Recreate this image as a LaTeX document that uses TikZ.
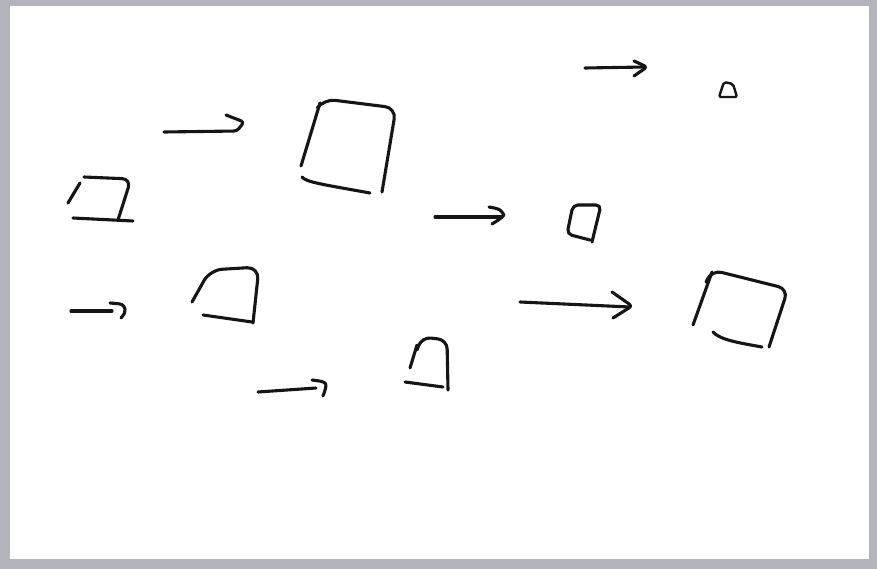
\documentclass[tikz,border=0pt]{standalone}
\usetikzlibrary{calc}
\definecolor{FrameGray}{HTML}{B3B3BB}
\definecolor{InkBlack}{HTML}{151515}

\begin{document}
\begin{tikzpicture}[
      x=1pt,y=-1pt,
      pen/.style={draw=InkBlack,line width=3.1pt,line cap=round,line join=round},
      finepen/.style={pen,line width=2.4pt},
      hook/.style={pen,rounded corners=3pt}
    ]
      % paper and frame
      \fill[FrameGray] (0,0) rectangle (877,569);
      \fill[white] (10,6) rectangle (869,559);
      \useasboundingbox (0,0) rectangle (877,569);

      % arrows
      \draw[pen] (585,68) -- (645,67);
      \draw[hook] (634,61) -- (647,67) -- (634,76);
      \draw[hook] (226,115) -- (244,122) -- (237,131) -- (164,132);
      \draw[pen] (435,217) -- (502,217);
      \draw[pen] (489,207) .. controls (500,209) .. (504,215) .. controls (500,219) .. (492,224);
      \draw[pen] (71,311) -- (112,311);
      \draw[pen] (110,303) .. controls (123,304) .. (125,309) .. controls (125,313) .. (121,318);
      \draw[pen] (520,302) -- (630,307);
      \draw[hook] (612,292) -- (632,306) -- (613,318);
      \draw[pen] (258,392) -- (316,388);
      \draw[pen] (312,380) .. controls (328,382) .. (323,396);

      % shapes
      \draw[finepen,rounded corners=2pt] (719,97) -- (737,97) -- (733,84) -- (724,82) -- cycle;
      \draw[pen] (301,166) -- (320,103);
      \draw[pen,rounded corners=11pt] (318,107) -- (324,99) -- (396,108) -- (382,192);
      \draw[pen] (302,177) .. controls (306,182) and (320,184) .. (370,193);
      \draw[pen] (68,203) -- (80,183);
      \draw[pen,rounded corners=9pt] (84,177) -- (131,179) -- (118,220);
      \draw[pen] (73,218) -- (133,221);
      \draw[pen,rounded corners=5pt] (590,240) -- (567,234) -- (573,205) -- (601,205) -- (592,242);
      \draw[pen,rounded corners=12pt] (192,302) -- (210,270) -- (259,267) -- (253,323);
      \draw[pen] (203,315) -- (252,322);
      \draw[pen] (693,325) -- (712,272);
      \draw[pen,rounded corners=10pt] (706,282) -- (712,270) -- (788,289) -- (769,347);
      \draw[pen] (713,332) .. controls (720,340) and (740,343) .. (762,347);
      \draw[pen] (410,368) -- (417,345);
      \draw[pen,rounded corners=9pt] (417,350) -- (422,337) -- (447,340) -- (448,390);
      \draw[pen] (405,382) -- (443,387);
    \end{tikzpicture}
\end{document}
